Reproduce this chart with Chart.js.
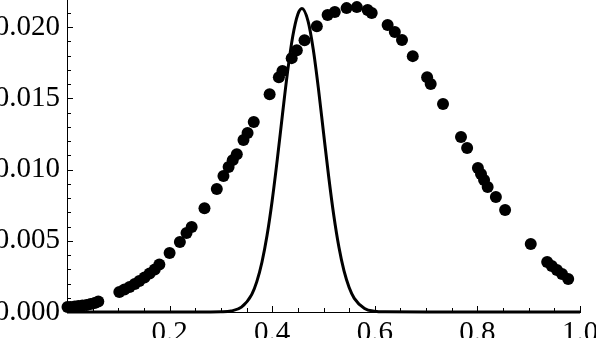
<!DOCTYPE html>
<html>
<head>
<meta charset="utf-8">
<script src="https://cdn.jsdelivr.net/npm/chart.js@4/dist/chart.umd.min.js"></script>
<style>
  html, body { margin: 0; padding: 0; background: #fff; }
  #wrap { width: 596px; height: 338px; position: relative; }
</style>
</head>
<body>
<div id="wrap"><canvas id="plot"></canvas></div>
<script>
// sample points
const dotX = [0.001, 0.007, 0.015, 0.022, 0.030, 0.038, 0.046, 0.054, 0.061,
  0.102, 0.112, 0.122, 0.132, 0.141, 0.151, 0.161, 0.171, 0.180,
  0.200, 0.220, 0.233, 0.243, 0.268, 0.292, 0.305, 0.315, 0.323, 0.331,
  0.344, 0.352, 0.364, 0.395, 0.413, 0.420, 0.438, 0.448, 0.463, 0.487,
  0.508, 0.522, 0.545, 0.565, 0.586, 0.594, 0.625, 0.639, 0.653, 0.674,
  0.702, 0.709, 0.733, 0.768, 0.780, 0.801, 0.807, 0.813, 0.820, 0.836,
  0.854, 0.904, 0.936, 0.945, 0.955, 0.965, 0.977];
const dotY = [0.00035, 0.00035, 0.00039, 0.00042, 0.00046, 0.00049, 0.00056, 0.00063, 0.00074,
  0.00140, 0.00158, 0.00175, 0.00196, 0.00217, 0.00242, 0.00270, 0.00298, 0.00333,
  0.00414, 0.00491, 0.00554, 0.00596, 0.00729, 0.00863, 0.00954, 0.01017, 0.01066, 0.01108,
  0.01207, 0.01256, 0.01333, 0.01529, 0.01648, 0.01691, 0.01782, 0.01837, 0.01908, 0.02006,
  0.02084, 0.02105, 0.02133, 0.02140, 0.02119, 0.02098, 0.02014, 0.01965, 0.01909, 0.01796,
  0.01648, 0.01600, 0.01460, 0.01228, 0.01151, 0.01011, 0.00968, 0.00926, 0.00877, 0.00807,
  0.00716, 0.00477, 0.00351, 0.00323, 0.00295, 0.00267, 0.00231];

// narrow peak curve
const curveX = [0, 0.1, 0.2, 0.28, 0.30, 0.32, 0.34, 0.36, 0.37, 0.38, 0.39, 0.40, 0.41,
  0.42, 0.43, 0.44, 0.45, 0.458, 0.47, 0.48, 0.49, 0.50, 0.51, 0.52, 0.53, 0.54,
  0.55, 0.56, 0.58, 0.60, 0.62, 0.70, 0.80, 0.90, 1.0];
const curveY = [0, 0, 0, 0, 0.00001, 0.00007, 0.00034, 0.00122, 0.00213, 0.00349, 0.00538, 0.00783, 0.01073,
  0.01386, 0.01687, 0.01934, 0.0209, 0.0213, 0.0204, 0.01844, 0.01571, 0.0126, 0.00953, 0.00679, 0.00456, 0.00288,
  0.00172, 0.00096, 0.00025, 0.00005, 0.00001, 0, 0, 0, 0];

const xRange = [0, 1.0];
const yRange = [0, 0.0219];
const xTicks = [0.2, 0.4, 0.6, 0.8, 1.0];
const yTicks = [0.000, 0.005, 0.010, 0.015, 0.020];
const xMinor = 0.05, yMinor = 0.001;

const serif = "'Liberation Serif', 'DejaVu Serif', serif";

// Mathematica style ticks pointing into the plot
const innerTicks = {
  id: 'innerTicks',
  afterDraw(chart) {
    const { ctx, chartArea, scales: { x, y } } = chart;
    ctx.save();
    ctx.strokeStyle = '#000';
    ctx.lineWidth = 1;
    ctx.beginPath();
    const nx = Math.round((xRange[1] - xRange[0]) / xMinor);
    for (let i = 1; i <= nx; i++) {
      const px = Math.round(x.getPixelForValue(i * xMinor)) + 0.5;
      const len = i % 4 === 0 ? 6 : 4;
      ctx.moveTo(px, chartArea.bottom);
      ctx.lineTo(px, chartArea.bottom - len);
    }
    const ny = Math.floor(yRange[1] / yMinor + 1e-6);
    for (let i = 1; i <= ny; i++) {
      const py = Math.round(y.getPixelForValue(i * yMinor)) + 0.5;
      const len = i % 5 === 0 ? 6 : 4;
      ctx.moveTo(chartArea.left, py);
      ctx.lineTo(chartArea.left + len, py);
    }
    ctx.stroke();
    ctx.restore();
  }
};

const ctx = document.getElementById('plot').getContext('2d');
new Chart(ctx, {
  type: 'scatter',
  data: {
    datasets: [
      {
        label: 'curve',
        type: 'line',
        data: curveX.map((v, i) => ({ x: v, y: curveY[i] })),
        borderColor: '#000',
        borderWidth: 3,
        pointRadius: 0,
        cubicInterpolationMode: 'monotone',
        fill: false,
        clip: false
      },
      {
        label: 'points',
        data: dotX.map((v, i) => ({ x: v, y: dotY[i] })),
        backgroundColor: '#000',
        borderColor: '#000',
        pointRadius: 6,
        borderWidth: 0,
        clip: false
      }
    ]
  },
  options: {
    responsive: true,
    maintainAspectRatio: false,
    animation: false,
    layout: { autoPadding: false, padding: { left: 0, right: 16, top: 0, bottom: 0 } },
    plugins: { legend: { display: false }, tooltip: { enabled: false } },
    scales: {
      x: {
        type: 'linear',
        min: xRange[0],
        max: xRange[1],
        grid: { display: false, drawTicks: false },
        border: { display: true, color: '#000', width: 1 },
        afterBuildTicks: s => { s.ticks = xTicks.map(v => ({ value: v })); },
        ticks: {
          autoSkip: false,
          maxRotation: 0,
          padding: 4,
          color: '#000',
          font: { family: serif, size: 29 },
          callback: v => v.toFixed(1)
        },
        afterFit: s => { s.height = 26; s.paddingLeft = 0; s.paddingRight = 0; }
      },
      y: {
        type: 'linear',
        min: yRange[0],
        max: yRange[1],
        grid: { display: false, drawTicks: false },
        border: { display: true, color: '#000', width: 1 },
        afterBuildTicks: s => { s.ticks = yTicks.map(v => ({ value: v })); },
        ticks: {
          autoSkip: false,
          padding: 7,
          color: '#000',
          font: { family: serif, size: 29 },
          callback: v => v.toFixed(3)
        },
        afterFit: s => { s.width = 67; s.paddingTop = 0; s.paddingBottom = 0; }
      }
    }
  },
  plugins: [innerTicks]
});
</script>
</body>
</html>
